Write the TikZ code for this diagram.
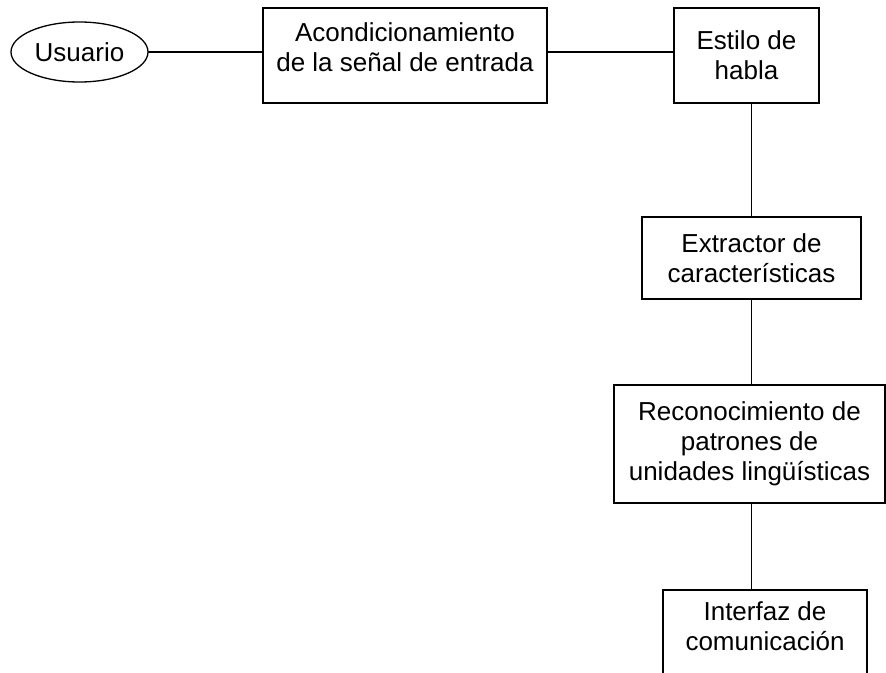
\documentclass[tikz,border=0pt]{standalone}
\usepackage{fontspec}
\setmainfont{Liberation Sans}
\usetikzlibrary{shapes.geometric}

\begin{document}
\begin{tikzpicture}[x=1pt, y=-1pt, line cap=round,
  caja/.style={draw, line width=1.3pt, align=center, inner sep=0pt,
    font=\fontsize{26}{30}\selectfont}]
\useasboundingbox (0,0) rectangle (886,672);
\clip (0,0) rectangle (886,672);
\node [caja, ellipse, minimum width=137pt, minimum height=60pt] (usuario) at (79.5,52) {Usuario};
\node [caja, minimum width=284pt, minimum height=95pt, text depth=16pt] (acond) at (405,55.5) {Acondicionamiento\\de la señal de entrada};
\node [caja, minimum width=145pt, minimum height=95pt] (estilo) at (746.5,55.5) {Estilo de\\habla};
\node [caja, minimum width=219pt, minimum height=82pt] (extractor) at (751.5,258) {Extractor de\\características};
\node [caja, minimum width=271pt, minimum height=118pt] (reconoc) at (749.5,444) {Reconocimiento de\\patrones de\\unidades lingüísticas};
\node [caja, minimum width=204pt, minimum height=95pt, text depth=23pt] (interfaz) at (765,637.5) {Interfaz de\\comunicación};
\draw [line width=1.3pt] (usuario.east) -- (usuario.east -| acond.west);
\draw [line width=1.3pt] (acond.east |- usuario.east) -- (estilo.west |- usuario.east);
\draw [line width=1.3pt] (estilo.south -| extractor.north) -- (extractor.north);
\draw [line width=1.3pt] (extractor.south) -- (extractor.south |- reconoc.north);
\draw [line width=1.3pt] (reconoc.south -| extractor.south) -- (interfaz.north -| extractor.south);
\end{tikzpicture}
\end{document}
